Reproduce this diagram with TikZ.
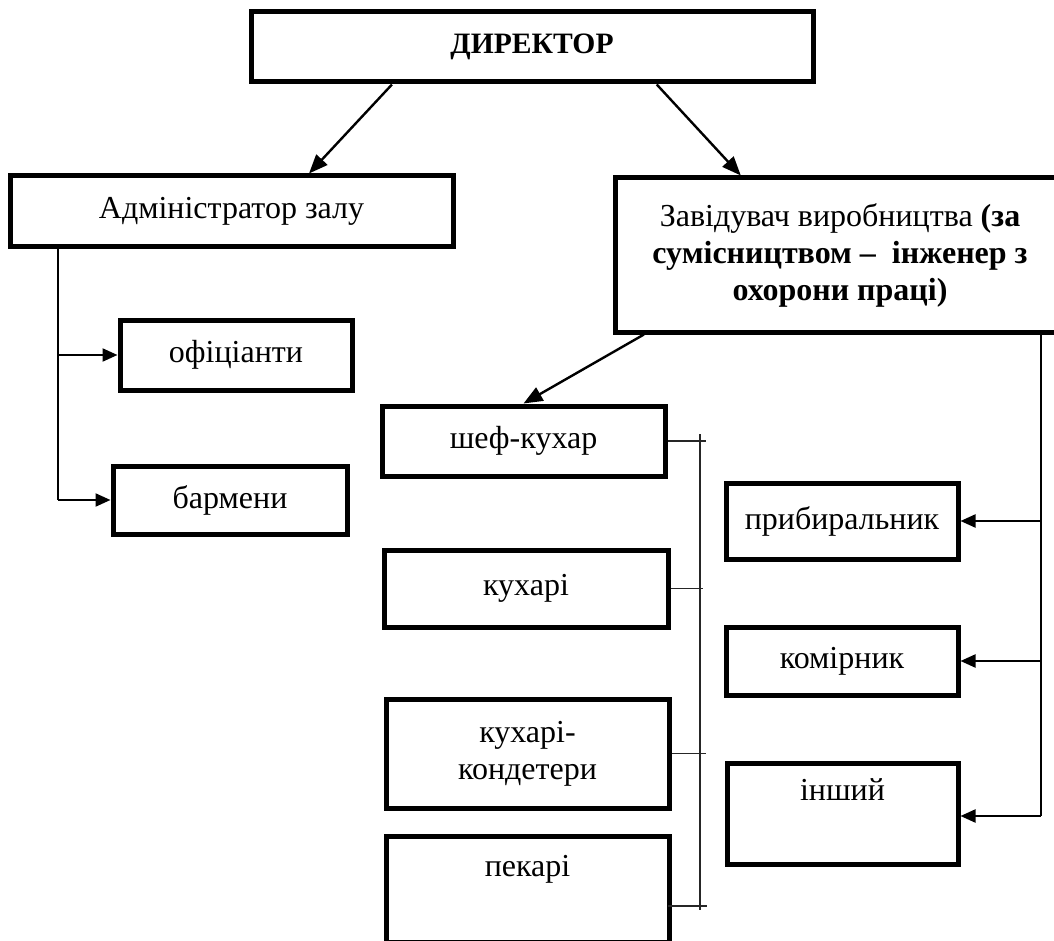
\documentclass[tikz,border=0pt]{standalone}
\usepackage{fontspec}
\setmainfont{Liberation Serif}
\usetikzlibrary{arrows.meta,calc}
\newcommand{\fsz}{\fontsize{32}{37}\selectfont}
\newcommand{\fsd}{\fontsize{29.6}{37}\selectfont}
\tikzset{
  box/.style={draw, line width=5pt, inner sep=0pt, align=center, font=\fsz},
  arr/.style={line width=2.4pt, -{Triangle[length=19pt,width=15pt]}},
  harr/.style={line width=2.2pt, -{Triangle[length=15pt,width=13pt]}},
  tree/.style={line width=2pt},
  ktree/.style={line width=1.3pt, black!85}
}
\begin{document}
\begin{tikzpicture}[x=1pt,y=-1pt]
\useasboundingbox (0,0) rectangle (1054,941);
\fill[white] (0,0) rectangle (1054,941);
% boxes
\node[box, minimum width=562, minimum height=70, font=\fsd] (dir) at (532,47) {\textbf{ДИРЕКТОР}};
\node[box, minimum width=443, minimum height=71] (adm) at (231.5,211.5) {Адміністратор залу};
\node[box, minimum width=450, minimum height=154] (zav) at (840,255)
  {Завідувач виробництва \textbf{(за}\\ \textbf{сумісництвом –\ \ інженер з}\\ \textbf{охорони праці)}};
\node[box, minimum width=232, minimum height=70] (ofi) at (236,355) {офіціанти};
\node[box, minimum width=234, minimum height=68] (bar) at (230,500) {бармени};
\node[box, minimum width=283, minimum height=70] (shef) at (523.5,441) {шеф-кухар};
\node[box, minimum width=284, minimum height=77] (kuh) at (526,588.5) {кухарі};
\node[box, minimum width=283, minimum height=109] (kond) at (527.5,753.5) {кухарі-\\кондетери};
\node[box, minimum width=283, minimum height=106] (pek) at (527.5,889.5) {пекарі\\\strut};
\node[box, minimum width=232, minimum height=76] (pryb) at (842,521) {прибиральник};
\node[box, minimum width=232, minimum height=68] (kom) at (842,661) {комірник};
\node[box, minimum width=231, minimum height=101] (insh) at (842.5,813.5) {інший\\\strut};
% director arrows
\draw[arr] ($(dir.south west)!0.253!(dir.south east)$) -- ($(adm.north west)!0.673!(adm.north east)$);
\draw[arr] ($(dir.south west)!0.72!(dir.south east)$) -- ($(zav.north west)!0.282!(zav.north east)$);
\draw[arr] ($(zav.south west)!0.069!(zav.south east)$) -- (shef.north);
% admin tree
\coordinate (a1) at ($(adm.south west)+(50,0)$);
\coordinate (a2) at (a1 |- bar.west);
\draw[tree] (a1) -- (a2);
\draw[harr] (a1 |- ofi.west) -- (ofi.west);
\draw[harr] (a2) -- (bar.west);
% right tree
\coordinate (z1) at ($(zav.south east)+(-27,0)$);
\coordinate (z2) at ($(z1 |- insh.east)+(0,2.5)$);
\draw[tree] (z1) -- (z2);
\draw[harr] (z1 |- pryb.east) -- (pryb.east);
\draw[harr] (z1 |- kom.east) -- (kom.east);
\draw[harr] (z2) -- (z2 -| insh.east);
% kitchen tree
\coordinate (k1) at (700,434);
\coordinate (k2) at (700,910);
\draw[ktree] (k1) -- (k2);
\draw[ktree] (shef.east) -- ++(38,0);
\draw[ktree] (kuh.east) -- ++(32,0);
\draw[ktree] (kond.east) -- ++(34,0);
\draw[ktree] ($(pek.east)+(-4,16.5)$) -- ++(39,0);
\end{tikzpicture}
\end{document}
